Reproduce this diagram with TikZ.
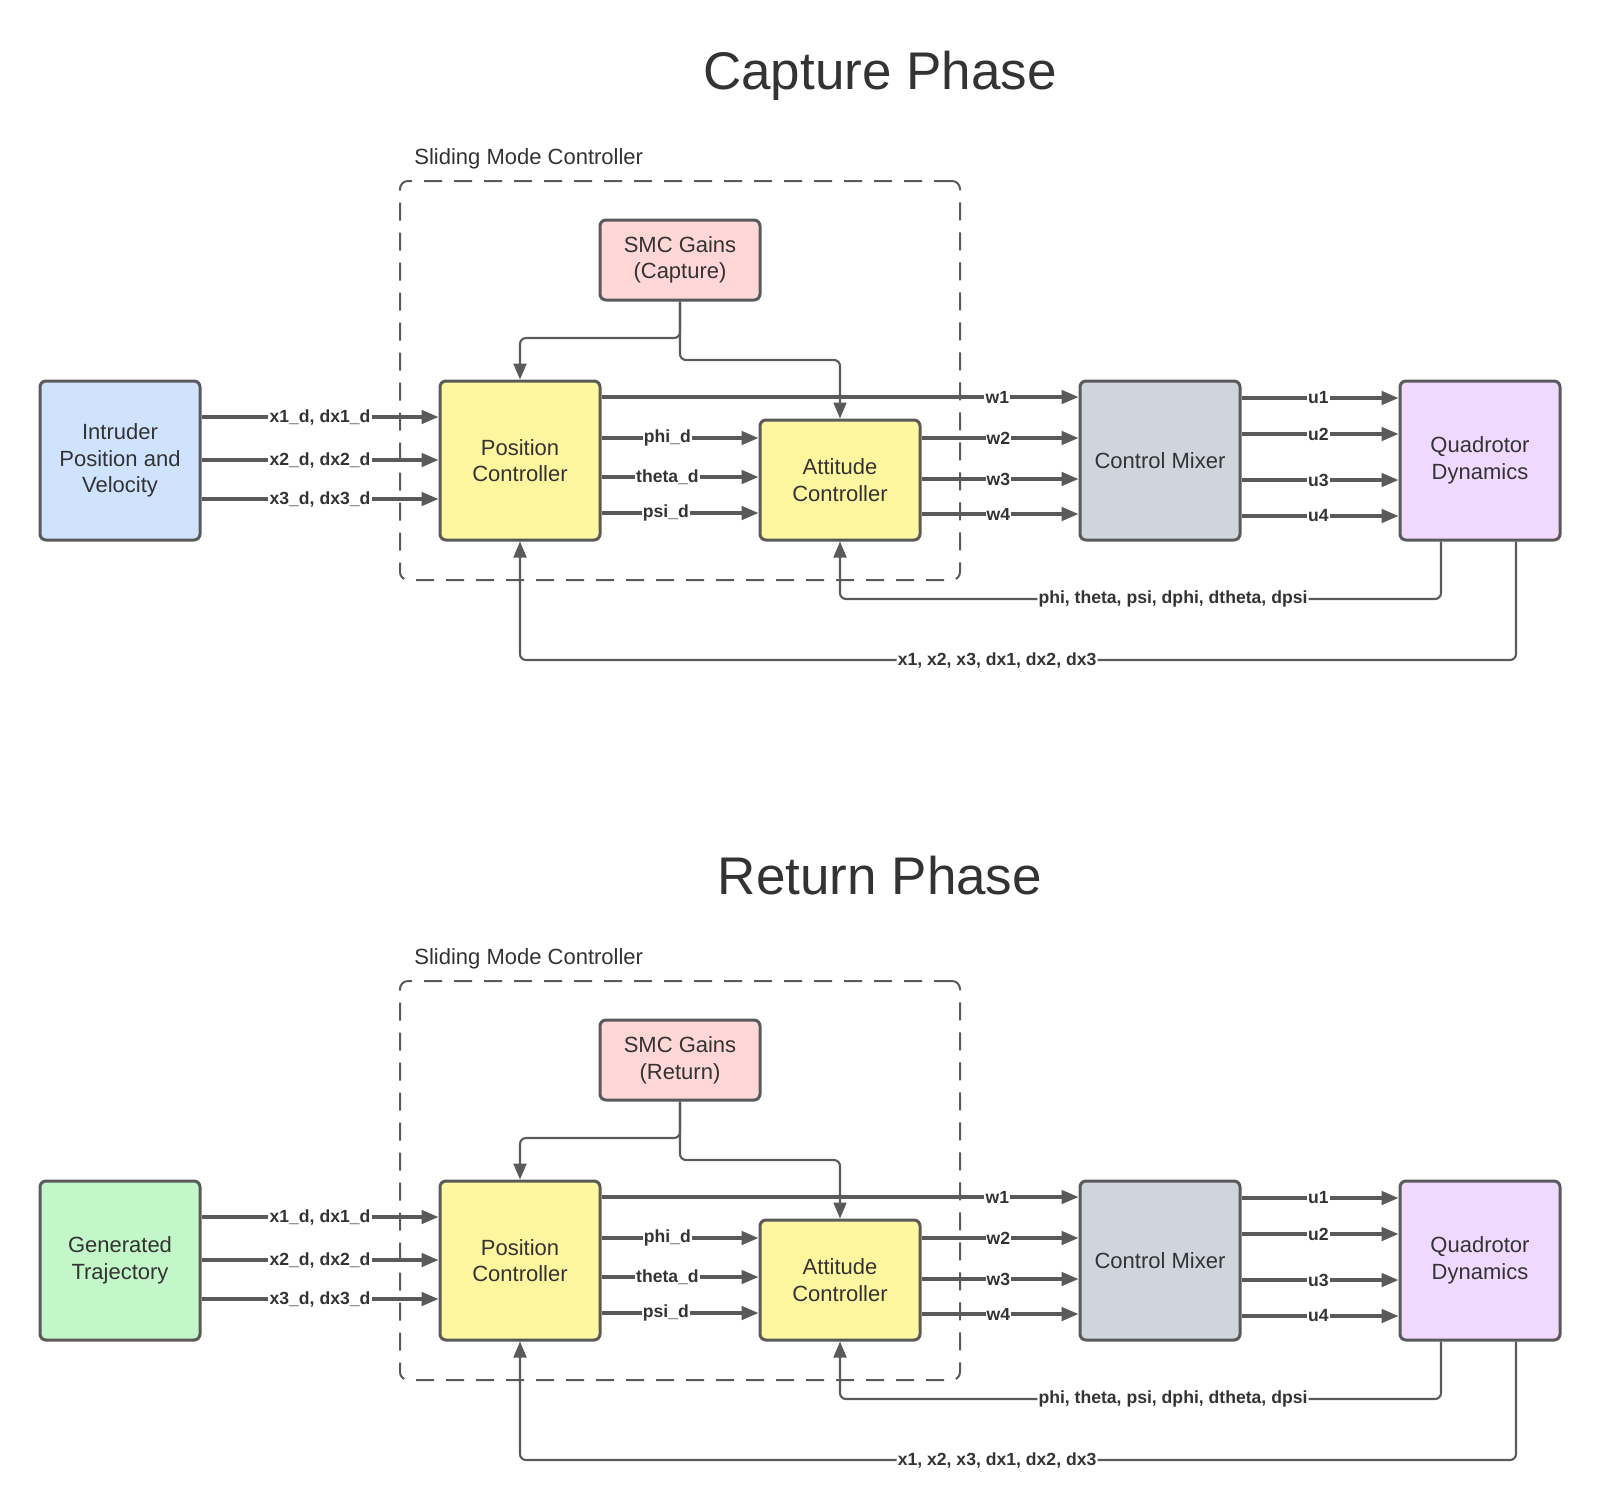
\documentclass[tikz,border=0pt]{standalone}
\usepackage{fontspec}
\setmainfont{Liberation Sans}
\usetikzlibrary{arrows.meta,calc}
\definecolor{linec}{HTML}{5A5A5A}
\definecolor{txtc}{HTML}{333333}
\definecolor{cblue}{HTML}{CFE3FF}
\definecolor{cyellow}{HTML}{FFF6A0}
\definecolor{cpink}{HTML}{FFD7D7}
\definecolor{cgray}{HTML}{CFD5DD}
\definecolor{cviolet}{HTML}{F0D9FE}
\definecolor{cgreen}{HTML}{C3F6C9}
\tikzset{
 blk/.style={draw=linec, line width=1.5pt, rounded corners=3pt, minimum width=80pt, minimum height=79.5pt, align=center, text=txtc, font=\fontsize{11}{13.3}\selectfont, inner sep=0pt},
 arr/.style={draw=linec, line width=1.55pt, -{Triangle[length=8.5pt,width=6.8pt]}},
 fb/.style={draw=linec, line width=1.05pt, rounded corners=3pt, -{Triangle[length=8pt,width=6.5pt]}},
 lbl/.style={fill=white, inner sep=0.6pt, text=txtc, font=\fontsize{8.8}{10}\selectfont\bfseries},
 dashbox/.style={draw=linec, line width=1pt, dash pattern=on 9pt off 6pt, rounded corners=4pt, minimum width=280pt, minimum height=199.5pt, inner sep=0pt},
 ttl/.style={text=txtc, font=\fontsize{26.5}{30}\selectfont, inner sep=0pt},
 captxt/.style={text=txtc, font=\fontsize{11}{13}\selectfont, inner sep=0pt, anchor=west},
}
\newcommand{\drawphase}[5]{%
 \node[ttl] (#1title) at (880,76) {#2};
 \node[captxt] (#1cap) at (414,159) {Sliding Mode Controller};
 \node[dashbox] (#1box) at (680,380.5) {};
 \node[blk, fill=cpink, minimum height=40pt] (#1gain) at (680,260) {SMC Gains\\(#3)};
 \node[blk, fill=#5] (#1src) at (120,460.5) {#4};
 \node[blk, fill=cyellow] (#1pos) at (520,460.5) {Position\\Controller};
 \node[blk, fill=cyellow, minimum height=60pt] (#1att) at (840,480) {Attitude\\Controller};
 \node[blk, fill=cgray] (#1mix) at (1160,460.5) {Control Mixer};
 \node[blk, fill=cviolet] (#1quad) at (1480,460.5) {Quadrotor\\Dynamics};
 % source -> position
 \draw[arr] (#1src.east |- 0,417) -- node[lbl]{x1\_d, dx1\_d} (#1pos.west |- 0,417);
 \draw[arr] (#1src.east |- 0,460) -- node[lbl]{x2\_d, dx2\_d} (#1pos.west |- 0,460);
 \draw[arr] (#1src.east |- 0,499) -- node[lbl]{x3\_d, dx3\_d} (#1pos.west |- 0,499);
 % position -> attitude
 \draw[arr] (#1pos.east |- 0,438) -- node[lbl,pos=0.42]{phi\_d} (#1att.west |- 0,438);
 \draw[arr] (#1pos.east |- 0,477) -- node[lbl,pos=0.42]{theta\_d} (#1att.west |- 0,477);
 \draw[arr] (#1pos.east |- 0,513) -- node[lbl,pos=0.41]{psi\_d} (#1att.west |- 0,513);
 % to mixer
 \draw[arr] (#1pos.east |- 0,397) -- node[lbl,pos=0.83]{w1} (#1mix.west |- 0,397);
 \draw[arr] (#1att.east |- 0,438) -- node[lbl,pos=0.49]{w2} (#1mix.west |- 0,438);
 \draw[arr] (#1att.east |- 0,479) -- node[lbl,pos=0.49]{w3} (#1mix.west |- 0,479);
 \draw[arr] (#1att.east |- 0,514) -- node[lbl,pos=0.49]{w4} (#1mix.west |- 0,514);
 % mixer -> quadrotor
 \draw[arr] (#1mix.east |- 0,398) -- node[lbl,pos=0.49]{u1} (#1quad.west |- 0,398);
 \draw[arr] (#1mix.east |- 0,434) -- node[lbl,pos=0.49]{u2} (#1quad.west |- 0,434);
 \draw[arr] (#1mix.east |- 0,480) -- node[lbl,pos=0.49]{u3} (#1quad.west |- 0,480);
 \draw[arr] (#1mix.east |- 0,516) -- node[lbl,pos=0.49]{u4} (#1quad.west |- 0,516);
 % gains
 \draw[fb] (#1gain.south) -- (#1gain.south |- 0,338) -- (#1pos.north |- 0,338) -- (#1pos.north);
 \draw[fb] (#1gain.south) -- (#1gain.south |- 0,360) -- (#1att.north |- 0,360) -- (#1att.north);
 % feedback
 \draw[fb] (#1quad.south -| 1441,0) -- (1441,599) -- node[lbl,pos=0.446]{phi, theta, psi, dphi, dtheta, dpsi} (#1att.south |- 0,599) -- (#1att.south);
 \draw[fb] (#1quad.south -| 1516,0) -- (1516,660) -- node[lbl,pos=0.521]{x1, x2, x3, dx1, dx2, dx3} (#1pos.south |- 0,660) -- (#1pos.south);
}
\begin{document}
\begin{tikzpicture}[x=0.5pt,y=-0.5pt]
 \useasboundingbox[fill=white] (0,0) rectangle (1600,1511);
 \drawphase{c}{Capture Phase}{Capture}{Intruder\\Position and\\Velocity}{cblue}
 \begin{scope}[shift={(0,800)}]
  \drawphase{r}{Return Phase}{Return}{Generated\\Trajectory}{cgreen}
 \end{scope}
\end{tikzpicture}
\end{document}
